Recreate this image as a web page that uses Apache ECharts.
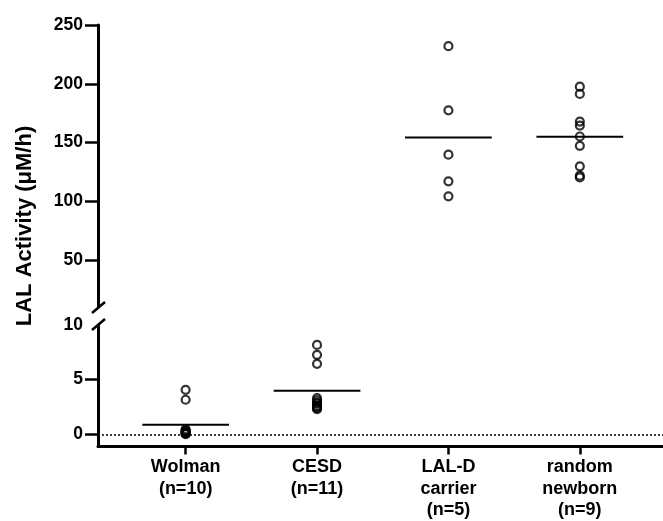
<!DOCTYPE html>
<html>
<head>
<meta charset="utf-8">
<script src="https://cdn.jsdelivr.net/npm/echarts@6/dist/echarts.min.js"></script>
<style>
html,body{margin:0;padding:0;background:#fff;}
#chart{width:663px;height:521px;}
</style>
</head>
<body>
<div id="chart"></div>
<script>
// ---- data ----
const categories = ['Wolman\n(n=10)', 'CESD\n(n=11)', 'LAL-D\ncarrier\n(n=5)', 'random\nnewborn\n(n=9)'];
const wolman = [4.07, 3.16, 0.45, 0.35, 0.3, 0.2, 0.15, 0.1, 0.05, 0.0];
const cesd = [8.18, 7.27, 6.45, 3.3, 3.1, 2.9, 2.8, 2.6, 2.5, 2.4, 2.3];
const lalCarrier = [232, 177.4, 139.6, 117, 104.2];
const randomNewborn = [197.5, 191.3, 167.8, 164.4, 155.1, 147.2, 129.7, 121.8, 120.3];
const means = [0.88, 3.98, 154.2, 154.8];
const upperTicks = [50, 100, 150, 200, 250];
const lowerLabels = [0, 5, 10];
const lowerTicks = [0, 5];
const catIdx = [0, 1, 2, 3];
const yTitle = 'LAL Activity (μM/h)';

const FONT = 'Liberation Sans, Arial, Helvetica, sans-serif';
const halfWidth = 0.33;

const chart = echarts.init(document.getElementById('chart'), null, {renderer: 'canvas'});

function pts(idx, arr) { return arr.map(v => [idx, v]); }
function meanSeg(idx) { return [[idx - halfWidth, means[idx]], [idx + halfWidth, means[idx]]]; }

const scatterStyle = {color: 'rgba(0,0,0,0)', borderColor: '#000', borderWidth: 2.2};

const xCommon = {type: 'value', min: -0.667, max: 3.633, splitLine: {show: false}};
const yLabelStyle = {color: '#000', fontSize: 17.5, fontWeight: 'bold', fontFamily: FONT, margin: 15};

const option = {
  animation: false,
  backgroundColor: '#fff',
  grid: [
    {left: 98, right: 0, top: 25, height: 282},
    {left: 98, right: 0, top: 325, height: 122}
  ],
  xAxis: [
    Object.assign({gridIndex: 0, show: false}, xCommon),
    Object.assign({
      gridIndex: 1,
      axisLine: {show: true, onZero: false, lineStyle: {color: '#000', width: 3}},
      axisTick: {show: true, customValues: catIdx, length: 8, lineStyle: {color: '#000', width: 2.5}},
      axisLabel: {customValues: catIdx, formatter: v => categories[Math.round(v)] || '',
        color: '#000', fontSize: 18, fontWeight: 'bold', fontFamily: FONT, lineHeight: 21.5, margin: 10}
    }, xCommon)
  ],
  yAxis: [
    {gridIndex: 0, type: 'value', min: 10, max: 250,
      axisLine: {show: true, onZero: false, lineStyle: {color: '#000', width: 3}},
      axisTick: {show: true, customValues: upperTicks, length: 13, lineStyle: {color: '#000', width: 2.5}},
      axisLabel: Object.assign({customValues: upperTicks}, yLabelStyle),
      splitLine: {show: false}},
    {gridIndex: 1, type: 'value', min: -1.12, max: 10,
      axisLine: {show: true, onZero: false, lineStyle: {color: '#000', width: 3}},
      axisTick: {show: true, customValues: lowerTicks, length: 13, lineStyle: {color: '#000', width: 2.5}},
      axisLabel: Object.assign({customValues: lowerLabels}, yLabelStyle),
      splitLine: {show: false}}
  ],
  series: [
    {type: 'scatter', xAxisIndex: 1, yAxisIndex: 1, symbol: 'circle', symbolSize: 8,
      itemStyle: scatterStyle, data: pts(0, wolman).concat(pts(1, cesd)),
      markLine: {silent: true, symbol: 'none', label: {show: false},
        lineStyle: {color: '#000', type: [2, 2], width: 1.5}, data: [{yAxis: 0}]}},
    {type: 'scatter', xAxisIndex: 0, yAxisIndex: 0, symbol: 'circle', symbolSize: 8,
      itemStyle: scatterStyle, data: pts(2, lalCarrier).concat(pts(3, randomNewborn))},
    {type: 'line', xAxisIndex: 1, yAxisIndex: 1, symbol: 'none', lineStyle: {color: '#000', width: 2}, data: meanSeg(0)},
    {type: 'line', xAxisIndex: 1, yAxisIndex: 1, symbol: 'none', lineStyle: {color: '#000', width: 2}, data: meanSeg(1)},
    {type: 'line', xAxisIndex: 0, yAxisIndex: 0, symbol: 'none', lineStyle: {color: '#000', width: 2}, data: meanSeg(2)},
    {type: 'line', xAxisIndex: 0, yAxisIndex: 0, symbol: 'none', lineStyle: {color: '#000', width: 2}, data: meanSeg(3)}
  ],
  graphic: [
    {type: 'text', x: 25, y: 226, rotation: Math.PI / 2,
      style: {text: yTitle, font: 'bold 22px ' + FONT, fill: '#000', textAlign: 'center', textVerticalAlign: 'middle'}},
    {type: 'line', shape: {x1: 92, y1: 313, x2: 105, y2: 302}, style: {stroke: '#000', lineWidth: 2.5}},
    {type: 'line', shape: {x1: 92, y1: 330, x2: 105, y2: 319}, style: {stroke: '#000', lineWidth: 2.5}}
  ]
};
chart.setOption(option);
</script>
</body>
</html>
